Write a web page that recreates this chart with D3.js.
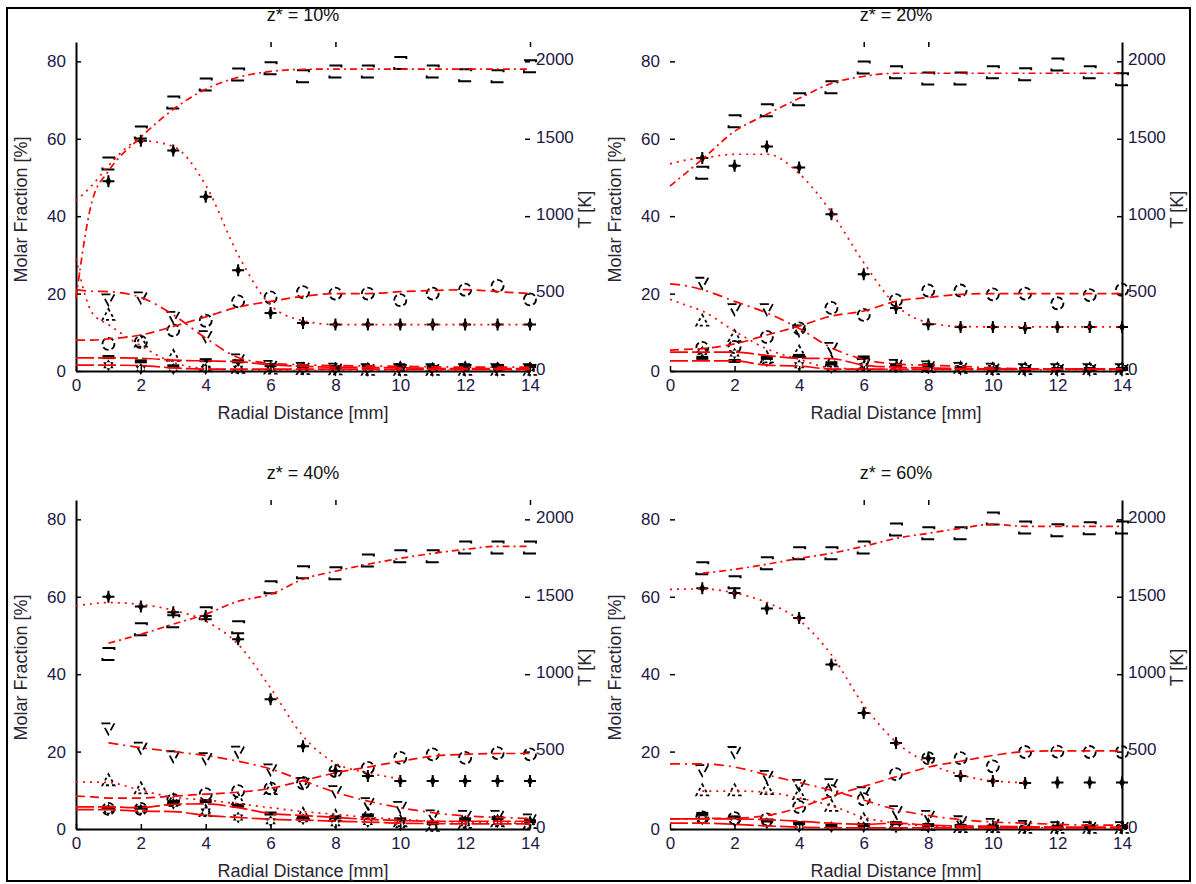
<!DOCTYPE html>
<html>
<head>
<meta charset="utf-8">
<script src="https://cdn.jsdelivr.net/npm/d3@7"></script>
<style>
  html, body { margin: 0; padding: 0; background: #fff; }
  svg { display: block; font-family: "Liberation Sans", Arial, Helvetica, sans-serif; }
</style>
</head>
<body>
<svg id="fig" width="1196" height="884"></svg>
<script>
// ---- measurement grid --------------------------------------------------
const radius = [1, 2, 3, 4, 5, 6, 7, 8, 9, 10, 11, 12, 13, 14];           // mm
const fitRadius = [0, 0.5, 1, 2, 3, 4, 5, 6, 7, 8, 9, 10, 11, 12, 13, 14]; // mm

const titles = ["z* = 10%", "z* = 20%", "z* = 40%", "z* = 60%"];
const xTicks = [0, 2, 4, 6, 8, 10, 12, 14];
const yTicks = [0, 20, 40, 60, 80];
const tTicks = [0, 500, 1000, 1500, 2000];
const topTicksLeft = [6, 8, 14];
const topTicksRight = [6, 8];

// ---- z* = 10% ----------------------------------------------------------
const temp10   = [1340, 1540, 1735, 1850, 1915, 1955, 1903, 1935, 1935, 1990, 1935, 1910, 1903, 1968];
const plus10   = [49, 59.5, 57, 45, 26, 15, 12.4, 12, 12, 12, 12, 12, 12, 12];
const circ10   = [7, 7.5, 10.5, 13, 18, 19, 20.4, 20, 20, 18.3, 20, 21, 22, 18.5];
const tri10    = [18.5, 19, 14, 9, 3, 1.3, 0.8, 0.6, 0.5, 0.5, 0.5, 0.5, 0.5, 0.5];
const utri10   = [14.5, 7.6, 3.9, 1.2, 0.8, 0.6, 0.5, 0.4, 0.3, 0.3, 0.3, 0.3, 0.3, 0.3];
const bar10    = [3.6, 2.5, 1.2, 2.8, 2.5, 1.5, 1.2, 1.0, 1.0, 1.3, 1.0, 1.3, 1.3, 1.3];
const star10   = [1.5, 0.5, 0.5, 0.5, 0.6, 0.8, 0.5, 0.5, 0.8, 1.2, 0.8, 1.2, 1.0, 1.0];
const tempFit10 = [470, 1100, 1290, 1510, 1690, 1820, 1897, 1935, 1948, 1950, 1950, 1950, 1950, 1950, 1950, 1950];
const plusFit10 = [44, 48, 53, 59.5, 58, 48, 30, 17, 13, 12, 12, 12, 12, 12, 12, 12];
const circFit10 = [8, 8, 8.3, 9.3, 11.5, 14, 16.5, 18, 19.3, 20, 20, 20.5, 20.8, 21, 20.5, 20];
const triFit10  = [21, 20.6, 20.5, 19, 14.5, 8.5, 3.5, 2, 1.6, 1.4, 1.3, 1.2, 1.1, 1, 1, 1];
const utriFit10 = [29, 15, 12, 6.5, 2.2, 0.6, 0.3, 0.2, 0.2, 0.2, 0.2, 0.2, 0.2, 0.2, 0.2, 0.2];
const barFit10  = [3.4, 3.4, 3.4, 3.3, 2.8, 2.6, 2.4, 1.6, 1.2, 1, 0.9, 0.8, 0.7, 0.6, 0.6, 0.6];
const starFit10 = [1.5, 1.5, 1.5, 1.4, 0.8, 0.5, 0.5, 0.5, 0.5, 0.5, 0.5, 0.4, 0.4, 0.4, 0.4, 0.4];

// ---- z* = 20% ----------------------------------------------------------
const temp20   = [1280, 1613, 1684, 1755, 1832, 1961, 1929, 1890, 1890, 1929, 1916, 1980, 1929, 1884];
const plus20   = [55, 53, 58, 52.6, 40.5, 25, 16.3, 12.1, 11.4, 11.4, 11.1, 11.4, 11.4, 11.4];
const circ20   = [6, 6.2, 8.8, 11, 16.3, 14.5, 18.3, 20.8, 20.8, 19.8, 20, 17.5, 19.6, 21];
const tri20    = [22.8, 16, 16, 10.5, 6, 1.8, 1.6, 1.2, 0.8, 0.6, 0.5, 0.5, 0.5, 0.5];
const utri20   = [13, 9, 3.5, 5, 2.5, 1.5, 1.2, 1, 0.8, 0.5, 0.5, 0.5, 0.5, 0.5];
const bar20    = [3.4, 2.6, 3.4, 3.9, 2, 3.5, 1.5, 1.5, 0.8, 0.6, 0.5, 0.5, 0.5, 0.5];
const star20   = [5, 4.5, 2.5, 1.5, 0.8, 1.2, 1, 0.8, 0.8, 0.8, 0.8, 0.8, 0.8, 0.8];
const tempFit20 = [1194, 1280, 1368, 1548, 1658, 1761, 1858, 1903, 1923, 1923, 1923, 1923, 1923, 1923, 1923, 1923];
const plusFit20 = [53.5, 54.5, 55, 56, 56, 51, 41, 28, 17, 12.5, 11.5, 11.4, 11.4, 11.4, 11.4, 11.4];
const circFit20 = [5.4, 5.6, 5.8, 7, 9.3, 11.6, 14.2, 15.5, 18, 19, 19.8, 20, 20, 20, 20, 20];
const triFit20  = [22.5, 22, 21, 18, 15, 11, 6, 3, 1.8, 1.5, 1.2, 0.8, 0.6, 0.5, 0.5, 0.5];
const utriFit20 = [18.5, 17, 15.5, 10.3, 5.7, 3, 0.8, 0.5, 0.4, 0.3, 0.3, 0.3, 0.3, 0.3, 0.3, 0.3];
const barFit20  = [4.9, 4.9, 4.9, 4.9, 4, 3.3, 3.2, 1.5, 1, 0.8, 0.6, 0.5, 0.5, 0.5, 0.5, 0.5];
const starFit20 = [2.6, 2.6, 2.6, 2.6, 1.5, 1.3, 0.5, 0.5, 0.5, 0.5, 0.5, 0.5, 0.5, 0.5, 0.5, 0.5];

// ---- z* = 40% ----------------------------------------------------------
const temp40   = [1130, 1290, 1342, 1394, 1303, 1561, 1658, 1652, 1735, 1761, 1761, 1819, 1819, 1819];
const plus40   = [60, 57.5, 56, 55, 49, 33.5, 21.4, 15, 13.7, 12.4, 12.4, 12.4, 12.4, 12.4];
const circ40   = [5.2, 5.2, 7.5, 9, 9.8, 10.5, 11.9, 15, 15.8, 18.4, 19.3, 18.4, 19.6, 19.3];
const tri40    = [26, 21, 18.8, 18.3, 20, 15.4, 11.9, 9.8, 6.7, 5.7, 3.5, 3.4, 3.4, 2.5];
const utri40   = [12.6, 10.5, 7.5, 4.6, 7.7, 10.3, 3.9, 3.4, 3.9, 2, 0.8, 1.6, 2, 1.5];
const bar40    = [5.5, 5.5, 7, 7.2, 6, 4, 3, 3, 3.5, 2.5, 1.5, 2.5, 2.8, 2];
const star40   = [5, 5, 6.5, 4.5, 3, 2, 2.5, 1.5, 1.8, 1, 0.8, 1.5, 1.8, 1.8];
const tempFit40 = [null, null, 1200, 1258, 1323, 1387, 1471, 1516, 1613, 1665, 1710, 1748, 1780, 1806, 1826, 1826];
const plusFit40 = [57.6, 58.2, 58.5, 58, 56.5, 53.7, 47.7, 36.4, 24, 17, 14.5, 13, null, null, null, null];
const circFit40 = [8.5, 8.3, 8, 8, 8.5, 9, 9.5, 10.5, 12.5, 14.5, 16, 17.5, 18.8, 19.3, 19.5, 19.5];
const triFit40  = [null, null, 22.3, 21, 20, 19, 17.5, 15.5, 12.5, 9.5, 7.2, 5.5, 4.2, 3.4, 3, 2.7];
const utriFit40 = [12.1, 12.1, 12, 10, 8.2, 7.5, 6.5, 5.5, 4.5, 3.8, 3, 2.5, 2, 1.8, 1.6, 1.5];
const barFit40  = [5.7, 5.7, 5.7, 5.5, 6.4, 6.5, 5.5, 4, 3.5, 3, 2.5, 2.2, 2, 2, 2, 2];
const starFit40 = [5, 5, 5, 4.6, 4.5, 3.5, 3, 2.5, 2.3, 2, 1.8, 1.5, 1.4, 1.3, 1.3, 1.3];

// ---- z* = 60% ----------------------------------------------------------
const temp60   = [1684, 1594, 1716, 1781, 1781, 1819, 1935, 1910, 1910, 2006, 1948, 1929, 1942, 1948];
const plus60   = [62.2, 61, 57, 54.5, 42.5, 30, 22.2, 18.3, 13.7, 12.4, 11.9, 12, 12, 12];
const circ60   = [3, 2.8, 2.5, 5.7, 9.8, 7.7, 14.2, 18.3, 18.3, 16.2, 19.9, 20, 19.9, 19.9];
const tri60    = [15.2, 19.9, 13.7, 11.4, 11.6, 9.5, 4.6, 3.4, 2, 1.3, 0.8, 0.5, 0.5, 0.5];
const utri60   = [10, 10, 10.3, 9, 6, 2.5, 1.5, 1, 0.5, 0.5, 0.3, 0.3, 0.3, 0.3];
const bar60    = [3.9, 3, 2.2, 1.5, 0.8, 1, 1.5, 1, 0.8, 0.6, 0.3, 0.5, 0.5, 0.5];
const star60   = [2.5, 2, 1.5, 0.5, 0.5, 0.5, 0.4, 0.4, 0.4, 0.3, 0.3, 0.3, 0.5, 0.5];
const tempFit60 = [null, null, 1652, 1677, 1710, 1748, 1781, 1826, 1877, 1910, 1942, 1968, 1955, 1955, 1955, 1955];
const plusFit60 = [61.9, 62, 62, 61, 58.5, 54, 45, 32, 22.5, 17, 14, 12.4, 12, null, null, null];
const circFit60 = [2.6, 2.6, 2.7, 2.8, 3.5, 5.5, 8.5, 11, 13.5, 16, 17.5, 19, 20, 20.2, 20.2, 20.2];
const triFit60  = [16.8, 16.8, 16.8, 16, 14, 12, 10, 7.5, 5, 3.5, 2.4, 1.8, 1.5, 1.2, 1, 1];
const utriFit60 = [null, null, 9.8, 9.8, 9.5, 8, 6, 3, 1.5, 0.8, 0.5, 0.3, 0.3, 0.3, 0.3, 0.3];
const barFit60  = [2.6, 2.6, 2.6, 2.6, 2.4, 2, 1.5, 1.2, 1.5, 1, 0.8, 0.7, 0.6, 0.5, 0.5, 0.5];
const starFit60 = [1.5, 1.5, 1.5, 1.2, 0.8, 0.5, 0.3, 0.3, 0.3, 0.3, 0.3, 0.3, 0.3, 0.3, 0.3, 0.3];

// ---- assemble the four panels -----------------------------------------
const panelData = [
  { temp: temp10, tempFit: tempFit10, species: [
      [plus10, plusFit10], [circ10, circFit10], [tri10, triFit10],
      [utri10, utriFit10], [bar10, barFit10], [star10, starFit10]] },
  { temp: temp20, tempFit: tempFit20, species: [
      [plus20, plusFit20], [circ20, circFit20], [tri20, triFit20],
      [utri20, utriFit20], [bar20, barFit20], [star20, starFit20]] },
  { temp: temp40, tempFit: tempFit40, species: [
      [plus40, plusFit40], [circ40, circFit40], [tri40, triFit40],
      [utri40, utriFit40], [bar40, barFit40], [star40, starFit40]] },
  { temp: temp60, tempFit: tempFit60, species: [
      [plus60, plusFit60], [circ60, circFit60], [tri60, triFit60],
      [utri60, utriFit60], [bar60, barFit60], [star60, starFit60]] }
];

// marker glyph and red profile style for each species, in the same order
const speciesStyle = [
  { marker: "plus",   dash: "2 5" },
  { marker: "circle", dash: "9 5" },
  { marker: "tri",    dash: "10 5 2 5" },
  { marker: "utri",   dash: "2 5" },
  { marker: "bar",    dash: "18 4" },
  { marker: "star",   dash: "18 4" }
];

const frames = [
  { left: 76,  right: 530,  top: 42,  bottom: 371, col: 0 },
  { left: 670, right: 1122, top: 42,  bottom: 371, col: 1 },
  { left: 76,  right: 530,  top: 500, bottom: 829, col: 0 },
  { left: 670, right: 1122, top: 500, bottom: 829, col: 1 }
];

const RED = "#ff0000";
const INK = "#000";
const TICK_TXT = "#1d1846";
const LABEL_TXT = "#2a2433";

const svg = d3.select("#fig");

// outer frame of the figure
svg.append("rect")
  .attr("x", 7).attr("y", 8).attr("width", 1183).attr("height", 873)
  .attr("fill", "none").attr("stroke", INK).attr("stroke-width", 2);

function drawMarker(sel, kind) {
  if (kind === "square") {
    sel.append("path").attr("d", "M-6,-6h12v12h-12Z")
      .attr("fill", "none").attr("stroke", INK).attr("stroke-width", 2)
      .attr("stroke-dasharray", "14 10");
  } else if (kind === "plus") {
    sel.append("path").attr("d", "M-6,0H6M0,-6V6")
      .attr("stroke", INK).attr("stroke-width", 2);
    sel.append("path").attr("d", d3.symbol(d3.symbolDiamond, 30)())
      .attr("fill", INK);
  } else if (kind === "circle") {
    sel.append("circle").attr("r", 6)
      .attr("fill", "none").attr("stroke", INK).attr("stroke-width", 1.8)
      .attr("stroke-dasharray", "6 3");
  } else if (kind === "tri") {
    sel.append("path").attr("d", "M-6,-5H6L0,6Z")
      .attr("fill", "none").attr("stroke", INK).attr("stroke-width", 1.8)
      .attr("stroke-dasharray", "8 4");
  } else if (kind === "utri") {
    sel.append("path").attr("d", "M0,-6L6,5H-6Z")
      .attr("fill", "none").attr("stroke", INK).attr("stroke-width", 1.8)
      .attr("stroke-dasharray", "3 3");
  } else if (kind === "bar") {
    sel.append("rect").attr("x", -6).attr("y", -2).attr("width", 12).attr("height", 4)
      .attr("fill", INK);
  } else if (kind === "star") {
    sel.append("path").attr("d", "M0,-6L5.2,3H-5.2ZM0,6L5.2,-3H-5.2Z")
      .attr("fill", INK);
  }
}

panelData.forEach((pd, i) => {
  const f = frames[i];
  const g = svg.append("g");
  const x = d3.scaleLinear().domain([0, 14]).range([f.left, f.right]);
  const y = d3.scaleLinear().domain([0, 85]).range([f.bottom, f.top]);
  const yT = d3.scaleLinear().domain([0, 2125]).range([f.bottom, f.top]);

  // --- axes ---
  const styleAxis = (a) => {
    a.attr("font-family", null).attr("font-size", null);
    a.selectAll(".tick line").attr("stroke", INK).attr("stroke-width", 1.5);
    a.selectAll(".tick text").attr("fill", TICK_TXT).attr("font-size", 17);
    a.select(".domain").attr("stroke", INK).attr("stroke-width", 2);
  };

  const bottomAx = g.append("g").attr("transform", `translate(0,${f.bottom})`)
    .call(d3.axisBottom(x).tickValues(xTicks).tickSize(-5).tickSizeOuter(0)
      .tickPadding(8).tickFormat(d3.format("d")));
  styleAxis(bottomAx);

  const leftAx = g.append("g").attr("transform", `translate(${f.left},0)`)
    .call(d3.axisLeft(y).tickValues(yTicks).tickSize(-5).tickSizeOuter(0).tickPadding(10));
  styleAxis(leftAx);
  if (f.col === 1) leftAx.select(".domain").remove();

  const rightAx = g.append("g").attr("transform", `translate(${f.right},0)`)
    .call(d3.axisRight(yT).tickValues(tTicks).tickSize(-5).tickSizeOuter(0)
      .tickPadding(6).tickFormat(d3.format("d")));
  styleAxis(rightAx);
  rightAx.selectAll(".tick text").attr("dy", "0.2em");
  if (f.col === 0) rightAx.select(".domain").remove();

  const topAx = g.append("g").attr("transform", `translate(0,${f.top})`)
    .call(d3.axisTop(x).tickValues(f.col === 0 ? topTicksLeft : topTicksRight)
      .tickSize(-5).tickFormat(""));
  topAx.select(".domain").remove();
  topAx.selectAll(".tick line").attr("stroke", INK).attr("stroke-width", 1.5);

  // --- labels ---
  const cx = (f.left + f.right) / 2;
  const cy = (f.top + f.bottom) / 2 + 3;
  g.append("text").attr("x", cx).attr("y", f.top - 21)
    .attr("text-anchor", "middle").attr("font-size", 18).attr("fill", "#111")
    .text(titles[i]);
  g.append("text").attr("x", cx).attr("y", f.bottom + 48)
    .attr("text-anchor", "middle").attr("font-size", 18).attr("fill", LABEL_TXT)
    .text("Radial Distance [mm]");
  g.append("text")
    .attr("transform", `translate(${f.left - 49},${cy}) rotate(-90)`)
    .attr("text-anchor", "middle").attr("font-size", 18).attr("fill", LABEL_TXT)
    .text("Molar Fraction [%]");
  g.append("text")
    .attr("transform", `translate(${f.right + 61},${cy}) rotate(-90)`)
    .attr("text-anchor", "middle").attr("font-size", 18).attr("fill", LABEL_TXT)
    .text("T [K]");

  // --- measured points ---
  const markerLayer = g.append("g");
  markerLayer.append("g").selectAll("g").data(pd.temp).join("g")
    .attr("transform", (d, k) => `translate(${x(radius[k])},${yT(d)})`)
    .each(function () { drawMarker(d3.select(this), "square"); });

  pd.species.forEach(([vals], s) => {
    markerLayer.append("g").selectAll("g").data(vals).join("g")
      .attr("transform", (d, k) => `translate(${x(radius[k])},${y(d)})`)
      .each(function () { drawMarker(d3.select(this), speciesStyle[s].marker); });
  });

  // --- smoothed profiles ---
  const fitLayer = g.append("g").attr("fill", "none").attr("stroke", RED)
    .attr("stroke-width", 1.7);

  const lineT = d3.line()
    .defined(d => d != null)
    .x((d, k) => x(fitRadius[k]))
    .y(d => yT(d))
    .curve(d3.curveMonotoneX);
  fitLayer.append("path").attr("d", lineT(pd.tempFit))
    .attr("stroke-dasharray", "7 4 2 4");

  const lineX = d3.line()
    .defined(d => d != null)
    .x((d, k) => x(fitRadius[k]))
    .y(d => y(d))
    .curve(d3.curveMonotoneX);
  pd.species.forEach(([, fit], s) => {
    fitLayer.append("path").attr("d", lineX(fit))
      .attr("stroke-dasharray", speciesStyle[s].dash);
  });
});
</script>
</body>
</html>
